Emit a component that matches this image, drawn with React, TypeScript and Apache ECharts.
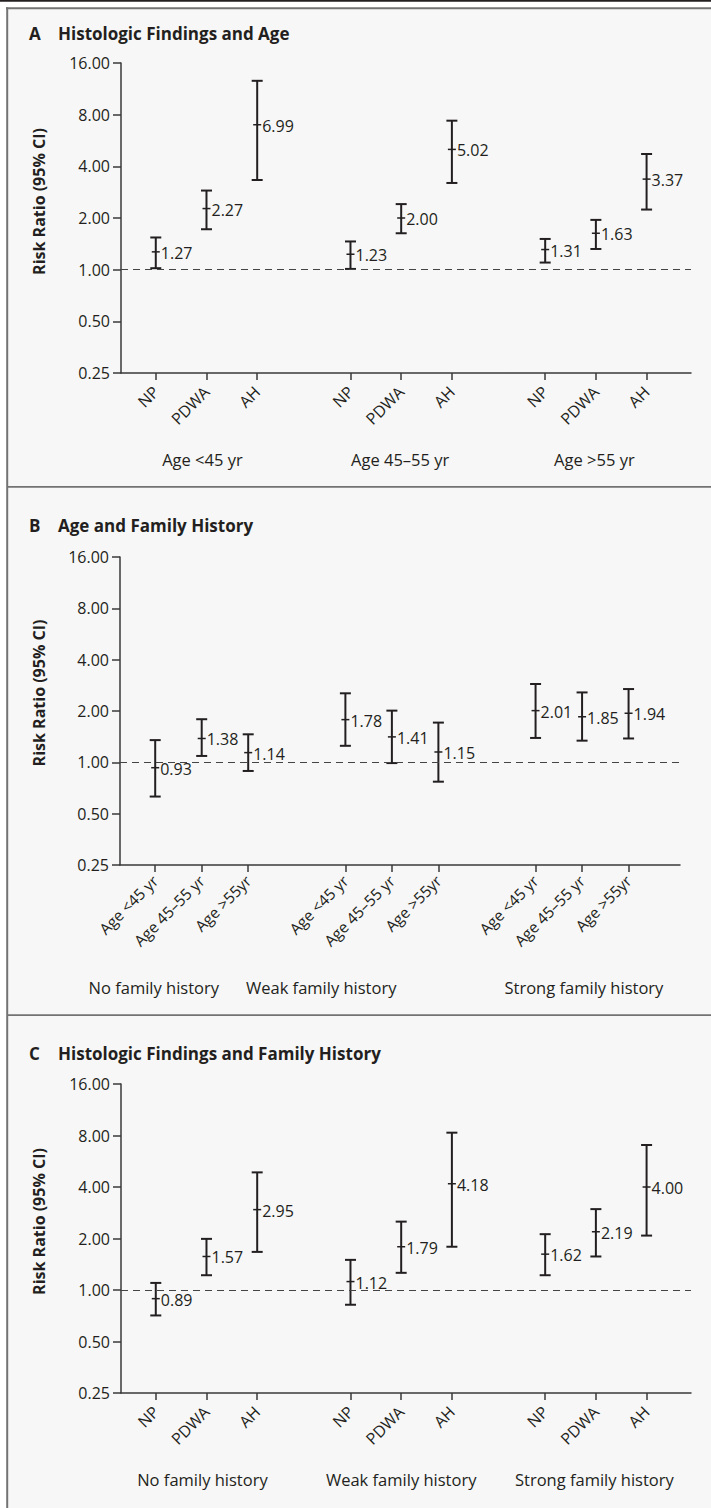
import React, { useEffect, useRef } from "react";
import * as echarts from "echarts";

// ---------- data ----------
const histCategories = ["NP", "PDWA", "AH"];
const ageCategories = ["Age <45 yr", "Age 45\u201355 yr", "Age >55yr"];
const ageGroups = ["Age <45 yr", "Age 45\u201355 yr", "Age >55 yr"];
const familyGroups = ["No family history", "Weak family history", "Strong family history"];

// Panel A: Histologic findings and age
const aEstimates = [1.27, 2.27, 6.99, 1.23, 2.0, 5.02, 1.31, 1.63, 3.37];
const aLower = [1.02, 1.72, 3.33, 1.01, 1.63, 3.2, 1.1, 1.32, 2.24];
const aUpper = [1.54, 2.89, 12.6, 1.46, 2.41, 7.38, 1.51, 1.95, 4.72];

// Panel B: Age and family history
const bEstimates = [0.93, 1.38, 1.14, 1.78, 1.41, 1.15, 2.01, 1.85, 1.94];
const bLower = [0.63, 1.09, 0.89, 1.25, 0.99, 0.77, 1.39, 1.34, 1.38];
const bUpper = [1.35, 1.79, 1.46, 2.54, 2.01, 1.71, 2.88, 2.57, 2.69];

// Panel C: Histologic findings and family history
const cEstimates = [0.89, 1.57, 2.95, 1.12, 1.79, 4.18, 1.62, 2.19, 4.0];
const cLower = [0.71, 1.22, 1.67, 0.82, 1.26, 1.79, 1.22, 1.57, 2.08];
const cUpper = [1.1, 1.99, 4.87, 1.5, 2.51, 8.31, 2.12, 2.97, 7.04];

const yMin = 0.25;
const yMax = 16;
const yAxisTitle = "Risk Ratio (95% CI)";

// ---------- layout / style ----------
const FONT = "'Open Sans', 'Noto Sans', sans-serif";
const INK = "#231f20";
const AXIS = "#3a3a3a";
const BORDER = "#737373";

const panels = [
  {
    letter: "A",
    title: "Histologic Findings and Age",
    est: aEstimates, lo: aLower, hi: aUpper,
    tickNames: histCategories, groupNames: ageGroups,
    grid: { left: 121, top: 63, width: 570, height: 310 },
    groupGap: 3.84, xMin: -0.686, xMax: 10.556,
    groupLabelPos: [0.92, 4.82, 8.65], groupLabelDy: 86,
    labelMargin: 16, labelSize: 16,
    titleY: 33.5, nameY: 201.5,
  },
  {
    letter: "B",
    title: "Age and Family History",
    est: bEstimates, lo: bLower, hi: bUpper,
    tickNames: ageCategories, groupNames: familyGroups,
    grid: { left: 120, top: 557, width: 560, height: 308 },
    groupGap: 4.09, xMin: -0.757, xMax: 11.286,
    groupLabelPos: [-0.03, 3.57, 9.22], groupLabelDy: 122,
    labelMargin: 13, labelSize: 15.5,
    titleY: 525, nameY: 693,
  },
  {
    letter: "C",
    title: "Histologic Findings and Family History",
    est: cEstimates, lo: cLower, hi: cUpper,
    tickNames: histCategories, groupNames: familyGroups,
    grid: { left: 121, top: 1084, width: 570, height: 309 },
    groupGap: 3.84, xMin: -0.686, xMax: 10.556,
    groupLabelPos: [0.92, 4.84, 8.65], groupLabelDy: 86,
    labelMargin: 16, labelSize: 16,
    titleY: 1053.5, nameY: 1221.5,
  },
];

function slotPositions(gap: number): number[] {
  const out: number[] = [];
  for (let g = 0; g < 3; g++) for (let i = 0; i < 3; i++) out.push(+(g * gap + i).toFixed(4));
  return out;
}

function buildOption() {
  const grid: any[] = [];
  const xAxis: any[] = [];
  const yAxis: any[] = [];
  const series: any[] = [];
  const graphic: any[] = [
    { type: "rect", z: -20, silent: true, shape: { x: 7, y: 8, width: 720, height: 1510 }, style: { fill: "#f7f7f7" } },
    { type: "rect", z: 10, silent: true, shape: { x: 0, y: 0, width: 711, height: 1.7 }, style: { fill: INK } },
    { type: "line", z: 10, silent: true, shape: { x1: 6, y1: 8.3, x2: 711, y2: 8.3 }, style: { stroke: BORDER, lineWidth: 2 } },
    { type: "line", z: 10, silent: true, shape: { x1: 7.2, y1: 7.3, x2: 7.2, y2: 1508 }, style: { stroke: BORDER, lineWidth: 2 } },
    { type: "line", z: 10, silent: true, shape: { x1: 7, y1: 486.8, x2: 711, y2: 486.8 }, style: { stroke: BORDER, lineWidth: 1.7 } },
    { type: "line", z: 10, silent: true, shape: { x1: 7, y1: 1015.2, x2: 711, y2: 1015.2 }, style: { stroke: BORDER, lineWidth: 1.7 } },
  ];

  panels.forEach((p, pi) => {
    const pos = slotPositions(p.groupGap);
    const labels: string[] = [];
    for (let g = 0; g < 3; g++) for (let i = 0; i < 3; i++) labels.push(p.tickNames[i]);

    grid.push({ ...p.grid, containLabel: false, outerBoundsMode: "none" });

    xAxis.push({
      type: "value",
      gridIndex: pi,
      min: p.xMin,
      max: p.xMax,
      axisLine: { show: true, onZero: false, lineStyle: { color: AXIS, width: 1.5 } },
      splitLine: { show: false },
      axisTick: { show: true, customValues: pos, length: 7, lineStyle: { color: AXIS, width: 1.5 } },
      axisLabel: {
        customValues: pos,
        rotate: 45,
        margin: p.labelMargin,
        color: INK,
        fontFamily: FONT,
        fontSize: p.labelSize,
        formatter: (v: number) => {
          const k = pos.findIndex((q) => Math.abs(q - v) < 1e-6);
          return k >= 0 ? labels[k] : "";
        },
      },
    });

    yAxis.push({
      type: "log",
      logBase: 2,
      gridIndex: pi,
      min: yMin,
      max: yMax,
      splitNumber: 6,
      axisLine: { show: true, onZero: false, lineStyle: { color: AXIS, width: 1.5 } },
      splitLine: { show: false },
      minorTick: { show: false },
      axisTick: { show: true, length: 8, lineStyle: { color: AXIS, width: 1.5 } },
      axisLabel: {
        margin: 11,
        color: INK,
        fontFamily: FONT,
        fontSize: 16,
        formatter: (v: number) => v.toFixed(2),
      },
    });

    const data = p.est.map((e, k) => [pos[k], p.lo[k], p.hi[k], e]);

    series.push({
      type: "custom",
      xAxisIndex: pi,
      yAxisIndex: pi,
      clip: false,
      encode: { x: 0, y: [1, 2, 3] },
      data,
      renderItem: (_params: any, api: any) => {
        const x = api.value(0);
        const lo = api.coord([x, api.value(1)]);
        const hi = api.coord([x, api.value(2)]);
        const e = api.coord([x, api.value(3)]);
        const txt = Number(api.value(3)).toFixed(2);
        const stroke = { stroke: INK, lineWidth: 2 };
        return {
          type: "group",
          children: [
            { type: "line", shape: { x1: lo[0], y1: lo[1], x2: hi[0], y2: hi[1] }, style: stroke },
            { type: "line", shape: { x1: hi[0] - 5.5, y1: hi[1], x2: hi[0] + 5.5, y2: hi[1] }, style: stroke },
            { type: "line", shape: { x1: lo[0] - 5.5, y1: lo[1], x2: lo[0] + 5.5, y2: lo[1] }, style: stroke },
            { type: "line", shape: { x1: e[0] - 4, y1: e[1], x2: e[0] + 4, y2: e[1] }, style: { stroke: INK, lineWidth: 1.5 } },
            {
              type: "text",
              x: e[0] + 5,
              y: e[1] + 1,
              style: {
                text: txt,
                fill: INK,
                font: `16px ${FONT}`,
                textAlign: "left",
                textVerticalAlign: "middle",
                align: "left",
                verticalAlign: "middle",
              },
            },
          ],
        };
      },
      markLine: {
        silent: true,
        symbol: ["none", "none"],
        label: { show: false },
        lineStyle: { type: [7, 5], color: "#444", width: 1 },
        data: [{ yAxis: 1 }],
      },
      z: 3,
    });

    // group labels beneath the axis
    series.push({
      type: "custom",
      xAxisIndex: pi,
      yAxisIndex: pi,
      clip: false,
      encode: { x: 0, y: 1 },
      data: p.groupLabelPos.map((q) => [q, yMin]),
      renderItem: (params: any, api: any) => {
        const c = api.coord([api.value(0), api.value(1)]);
        return {
          type: "text",
          x: c[0],
          y: c[1] + p.groupLabelDy,
          style: {
            text: p.groupNames[params.dataIndex],
            fill: INK,
            font: `16.5px ${FONT}`,
            textAlign: "center",
            textVerticalAlign: "middle",
            align: "center",
            verticalAlign: "middle",
          },
        };
      },
    });

    graphic.push(
      {
        type: "text", z: 10, silent: true, x: 29, y: p.titleY,
        style: { text: p.letter, fill: INK, font: `bold 17px ${FONT}`, textAlign: "left", textVerticalAlign: "middle" },
      },
      {
        type: "text", z: 10, silent: true, x: 58, y: p.titleY,
        style: { text: p.title, fill: INK, font: `bold 17px ${FONT}`, textAlign: "left", textVerticalAlign: "middle" },
      },
      {
        type: "text", z: 10, silent: true, x: 39, y: p.nameY, rotation: Math.PI / 2,
        style: { text: yAxisTitle, fill: INK, font: `bold 16px ${FONT}`, textAlign: "center", textVerticalAlign: "middle" },
      }
    );
  });

  return {
    animation: false,
    backgroundColor: "#ffffff",
    grid,
    xAxis,
    yAxis,
    series,
    graphic,
  };
}

export default function App() {
  const ref = useRef<HTMLDivElement>(null);
  useEffect(() => {
    if (!ref.current) return;
    const chart = echarts.init(ref.current, null, { renderer: "svg" });
    chart.setOption(buildOption() as any);
    return () => chart.dispose();
  }, []);
  return (
    <div
      ref={ref}
      style={{ position: "absolute", left: 0, top: 0, width: 711, height: 1508 }}
    />
  );
}
